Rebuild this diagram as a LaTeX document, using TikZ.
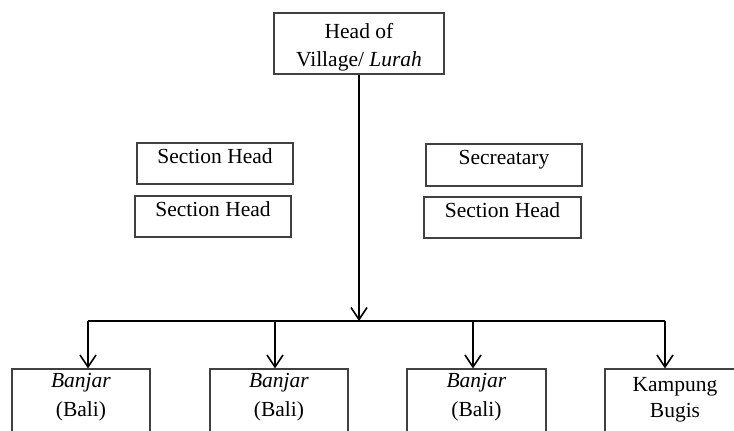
\documentclass[tikz,border=0pt]{standalone}
\usepackage{fontspec}
\setmainfont{Liberation Serif}
\usetikzlibrary{arrows.meta}
\begin{document}
\begin{tikzpicture}[x=1pt,y=-1pt,
  box/.style={draw=black!75,line width=1.2pt,inner sep=0pt},
  lbl/.style={font=\fontsize{21.5}{24}\selectfont,inner sep=0pt,anchor=base},
  conn/.style={line width=1.8pt,black},
  arr/.style={conn,-{Straight Barb[length=12pt,width=16pt,line width=1.6pt]}}]
\useasboundingbox (0,0) rectangle (734,431);
\clip (0,0) rectangle (734,431);
% top
\node[box,minimum width=170pt,minimum height=61pt] (top) at (359,43.5) {};
\node[lbl] (topA) at (359,38) {Head of};
\node[lbl] (topB) at (359,66) {Village/ \textit{Lurah}};
% side boxes
\node[box,minimum width=156pt,minimum height=41pt] (sl1) at (215,163.5) {};
\node[lbl] (sl1t) at (215,163) {Section Head};
\node[box,minimum width=156pt,minimum height=41pt] (sl2) at (213,216.5) {};
\node[lbl] (sl2t) at (213,216) {Section Head};
\node[box,minimum width=156pt,minimum height=42pt] (sr1) at (504,165) {};
\node[lbl] (sr1t) at (504,164) {Secreatary};
\node[box,minimum width=157pt,minimum height=41pt] (sr2) at (502.5,217.5) {};
\node[lbl] (sr2t) at (502.5,217) {Section Head};
% bottom boxes
\node[box,minimum width=138pt,minimum height=91pt] (b1) at (81,414.5) {};
\node[lbl] (b1a) at (81,387) {\textit{Banjar}};
\node[lbl] (b1b) at (81,416) {(Bali)};
\node[box,minimum width=138pt,minimum height=91pt] (b2) at (279,414.5) {};
\node[lbl] (b2a) at (279,387) {\textit{Banjar}};
\node[lbl] (b2b) at (279,416) {(Bali)};
\node[box,minimum width=139pt,minimum height=91pt] (b3) at (476.5,414.5) {};
\node[lbl] (b3a) at (476.5,387) {\textit{Banjar}};
\node[lbl] (b3b) at (476.5,416) {(Bali)};
\node[box,minimum width=140pt,minimum height=91pt] (b4) at (675,414.5) {};
\node[lbl] (b4a) at (675,391) {Kampung};
\node[lbl] (b4b) at (675,417) {Bugis};
% connectors
\coordinate (hc) at (359,321);
\coordinate (h1) at (88,321);
\coordinate (h2) at (275,321);
\coordinate (h3) at (473,321);
\coordinate (h4) at (665,321);
\draw[arr] (top.south) -- (hc);
\draw[conn] (h1) -- (h4);
\draw[arr] (h1) -- (h1 |- b1.north);
\draw[arr] (h2) -- (h2 |- b2.north);
\draw[arr] (h3) -- (h3 |- b3.north);
\draw[arr] (h4) -- (h4 |- b4.north);
\end{tikzpicture}
\end{document}
